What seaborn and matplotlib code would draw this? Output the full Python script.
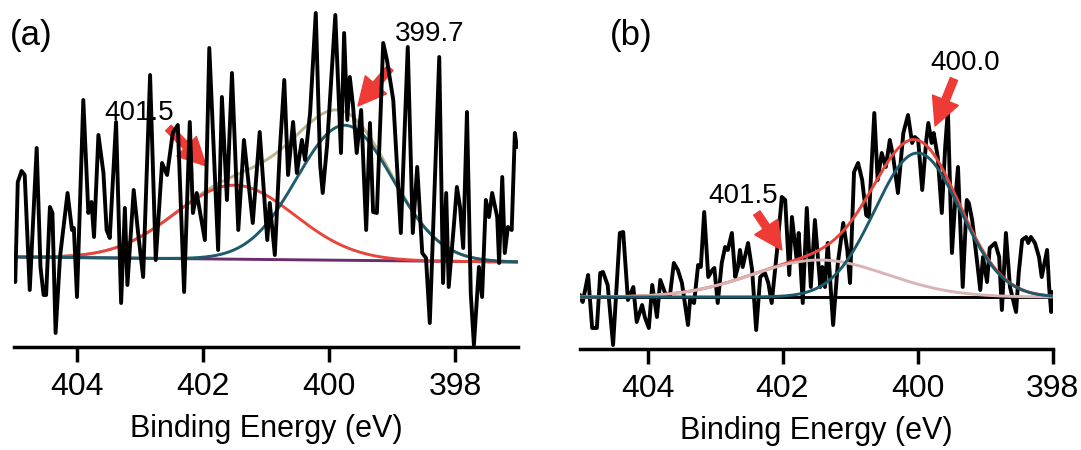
import numpy as np
import pandas as pd
import matplotlib
matplotlib.use("Agg")
import matplotlib.pyplot as plt
import seaborn as sns

# ---------------- Panel (a) raw spectrum (binding energy, counts a.u.) -------------
energy_a = [405.00, 404.98, 404.94, 404.88, 404.83, 404.75, 404.64, 404.58, 404.53, 404.49,
            404.43, 404.39, 404.34, 404.27, 404.15, 404.08, 404.05, 404.00, 403.90, 403.82,
            403.77, 403.73, 403.66, 403.58, 403.53, 403.48, 403.38, 403.30, 403.24, 403.20,
            403.10, 403.03, 402.95, 402.84, 402.75, 402.65, 402.57, 402.48, 402.40, 402.30,
            402.21, 402.16, 402.10, 401.97, 401.90, 401.76, 401.70, 401.62, 401.54, 401.44,
            401.35, 401.21, 401.10, 400.98, 400.94, 400.86, 400.78, 400.71, 400.65, 400.57,
            400.51, 400.43, 400.38, 400.30, 400.21, 400.14, 400.10, 400.03, 399.90, 399.81,
            399.76, 399.71, 399.67, 399.62, 399.56, 399.49, 399.41, 399.35, 399.30, 399.24,
            399.14, 399.08, 398.98, 398.86, 398.75, 398.67, 398.60, 398.52, 398.46, 398.40,
            398.25, 398.19, 398.14, 398.10, 398.02, 397.97, 397.92, 397.87, 397.81, 397.75,
            397.70, 397.62, 397.57, 397.51, 397.46, 397.41, 397.33, 397.30, 397.25, 397.21,
            397.16, 397.10, 397.05, 397.02]
counts_a = [84, 65, 165, 176, 172, 57, 199, 80, 52, 52,
            140, 134, 14, 90, 154, 117, 119, 50, 247, 134,
            145, 110, 212, 174, 117, 109, 225, 44, 139, 62,
            157, 114, 70, 272, 87, 184, 172, 214, 222, 55,
            225, 134, 154, 107, 299, 97, 250, 147, 274, 117,
            207, 124, 215, 107, 144, 92, 197, 267, 172, 225,
            174, 207, 187, 234, 334, 182, 154, 202, 332, 194,
            314, 227, 270, 242, 194, 237, 117, 224, 135, 134,
            304, 287, 247, 114, 300, 114, 180, 94, 89, 24,
            290, 64, 154, 60, 120, 160, 140, 99, 235, 54,
            2, 80, 50, 147, 130, 154, 130, 84, 170, 94,
            120, 117, 214, 200]

# fit of panel (a): linear background + two Gaussian components
bg_a_ends = [90, 85]            # background at 405 eV and 397 eV
center_a = [401.5, 399.75]      # N species positions (eV)
height_a = [74, 135]
sigma_a = [0.95, 0.76]

# ---------------- Panel (b) raw spectrum -------------
energy_b = [405.00, 404.99, 404.96, 404.88, 404.82, 404.75, 404.70, 404.66, 404.59, 404.51,
            404.41, 404.36, 404.29, 404.21, 404.16, 404.08, 404.04, 403.98, 403.93, 403.86,
            403.81, 403.74, 403.67, 403.61, 403.55, 403.49, 403.40, 403.37, 403.31, 403.25,
            403.21, 403.16, 403.10, 403.04, 403.01, 402.96, 402.90, 402.85, 402.81, 402.75,
            402.70, 402.66, 402.63, 402.59, 402.51, 402.45, 402.39, 402.33, 402.26, 402.21,
            402.16, 402.08, 402.01, 401.96, 401.90, 401.86, 401.79, 401.76, 401.70, 401.64,
            401.58, 401.52, 401.44, 401.41, 401.37, 401.33, 401.25, 401.18, 401.10, 401.04,
            401.00, 400.94, 400.88, 400.82, 400.76, 400.72, 400.64, 400.59, 400.53, 400.47,
            400.41, 400.36, 400.29, 400.21, 400.14, 400.08, 400.04, 399.99, 399.93, 399.87,
            399.84, 399.79, 399.76, 399.70, 399.64, 399.59, 399.55, 399.49, 399.44, 399.40,
            399.33, 399.27, 399.24, 399.19, 399.12, 399.07, 399.03, 398.97, 398.93, 398.85,
            398.79, 398.75, 398.69, 398.63, 398.54, 398.50, 398.45, 398.39, 398.36, 398.32,
            398.26, 398.20, 398.16, 398.08, 398.05, 398.02, 398.01]
counts_b = [54, 51, 47, 74, 21, 21, 76, 77, 64, 4,
            116, 117, 49, 62, 27, 44, 32, 21, 64, 32,
            69, 56, 52, 86, 79, 66, 24, 49, 46, 84,
            82, 137, 72, 79, 81, 46, 86, 102, 99, 116,
            72, 82, 99, 82, 106, 79, 19, 72, 76, 66,
            46, 99, 152, 149, 74, 132, 89, 116, 46, 141,
            62, 129, 62, 82, 62, 106, 24, 86, 126, 99,
            66, 177, 186, 169, 134, 132, 236, 169, 196, 182,
            209, 192, 156, 216, 234, 206, 212, 209, 159, 209,
            226, 206, 216, 192, 136, 202, 239, 96, 149, 182,
            62, 149, 146, 129, 89, 59, 92, 67, 101, 106,
            92, 39, 116, 62, 37, 76, 109, 112, 106, 112,
            106, 92, 72, 99, 62, 37, 57]

bg_b = 52
center_b = [400.0, 401.45]
height_b = [144, 37]
sigma_b = [0.63, 1.0]

labels_a = ["401.5", "399.7"]
labels_b = ["401.5", "400.0"]
ticks_all = [404, 402, 400, 398]

# ---------------- style ----------------
sns.set_theme(style="white")
plt.rcParams['font.family'] = ['Liberation Sans', 'DejaVu Sans']
plt.rcParams['text.color'] = 'black'
plt.rcParams['axes.labelcolor'] = 'black'
plt.rcParams['xtick.color'] = 'black'

RED = "#e8463c"
TEAL = "#1e5a6a"
KHAKI = "#b9b48f"
PURPLE = "#6b2c6b"
PINK = "#d8b4b4"
ARROW = "#ef3b36"

fig = plt.figure(figsize=(10.81, 4.5), dpi=100)
ax_a = fig.add_axes([14 / 1081, 103 / 450, 504 / 1081, 339 / 450])
ax_b = fig.add_axes([580 / 1081, 101 / 450, 472.5 / 1081, 341 / 450])


def gauss(x, c, h, s):
    return h * np.exp(-(x - c) ** 2 / (2 * s ** 2))


FIT_LW = 2.1
DATA_LW = 2.8

# ---- panel (a)
xa = np.linspace(405, 397, 500)
bga = np.interp(xa, [397, 405], bg_a_ends[::-1])
comp_a1 = bga + gauss(xa, center_a[0], height_a[0], sigma_a[0])
comp_a2 = bga + gauss(xa, center_a[1], height_a[1], sigma_a[1])
env_a = bga + gauss(xa, center_a[0], height_a[0], sigma_a[0]) + gauss(xa, center_a[1], height_a[1], sigma_a[1])

for y, c, z in [(bga, PURPLE, 2.0), (env_a, KHAKI, 2.1), (comp_a1, RED, 2.2), (comp_a2, TEAL, 2.3)]:
    sns.lineplot(x=xa, y=y, ax=ax_a, color=c, lw=FIT_LW, sort=False, estimator=None, zorder=z)
sns.lineplot(x=energy_a, y=counts_a, ax=ax_a, color="black", lw=DATA_LW, sort=False,
             estimator=None, zorder=4)

ax_a.text(403.02, 234, labels_a[0], ha="center", va="center", fontsize=20, zorder=1)
ax_a.text(398.40, 313, labels_a[1], ha="center", va="center", fontsize=20, zorder=1)
arrow_kw = dict(arrowstyle="simple,head_length=0.8,head_width=0.8,tail_width=0.22",
                color=ARROW, shrinkA=0, shrinkB=0, mutation_scale=25)
ax_a.annotate("", xy=(401.95, 181), xytext=(402.55, 219), arrowprops=arrow_kw, zorder=3)
ax_a.annotate("", xy=(399.54, 241), xytext=(399.03, 279), arrowprops=arrow_kw, zorder=3)
ax_a.set_xlim(405, 397)
ax_a.set_ylim(0, 339)

# ---- panel (b)
xb = np.linspace(405, 398, 500)
bgb = np.full_like(xb, bg_b)
comp_b1 = bgb + gauss(xb, center_b[0], height_b[0], sigma_b[0])
comp_b2 = bgb + gauss(xb, center_b[1], height_b[1], sigma_b[1])
env_b = bgb + gauss(xb, center_b[0], height_b[0], sigma_b[0]) + gauss(xb, center_b[1], height_b[1], sigma_b[1])

sns.lineplot(x=energy_b, y=counts_b, ax=ax_b, color="black", lw=DATA_LW, sort=False,
             estimator=None, zorder=2)
for y, c, z in [(bgb, "black", 3.0), (env_b, RED, 3.1), (comp_b2, PINK, 3.2), (comp_b1, TEAL, 3.3)]:
    sns.lineplot(x=xb, y=y, ax=ax_b, color=c, lw=FIT_LW, sort=False, estimator=None, zorder=z)

ax_b.text(402.58, 153, labels_b[0], ha="center", va="center", fontsize=20, zorder=1)
ax_b.text(399.30, 286, labels_b[1], ha="center", va="center", fontsize=20, zorder=1)
ax_b.annotate("", xy=(402.01, 99), xytext=(402.38, 136), arrowprops=arrow_kw, zorder=5)
ax_b.annotate("", xy=(399.74, 223), xytext=(399.46, 270), arrowprops=arrow_kw, zorder=5)
ax_b.set_xlim(405, 398)
ax_b.set_ylim(0, 341)

for ax in (ax_a, ax_b):
    for side in ("left", "top", "right"):
        ax.spines[side].set_visible(False)
    ax.spines["bottom"].set_linewidth(2.5)
    ax.spines["bottom"].set_color("black")
    ax.set_xticks(ticks_all)
    ax.set_xticklabels([str(t) for t in ticks_all])
    ax.set_yticks([])
    ax.tick_params(axis="x", bottom=True, direction="out", length=11, width=2.5,
                   labelsize=23, pad=7, colors="black")
    ax.set_xlabel("Binding Energy (eV)", fontsize=22, labelpad=9)
    ax.set_ylabel("")
    ax.patch.set_alpha(0)

fig.text(31 / 1081, 1 - 36 / 450, "(a)", fontsize=25, ha="center", va="center")
fig.text(631 / 1081, 1 - 35 / 450, "(b)", fontsize=25, ha="center", va="center")

fig.savefig("out.png", dpi=100, facecolor="white")
